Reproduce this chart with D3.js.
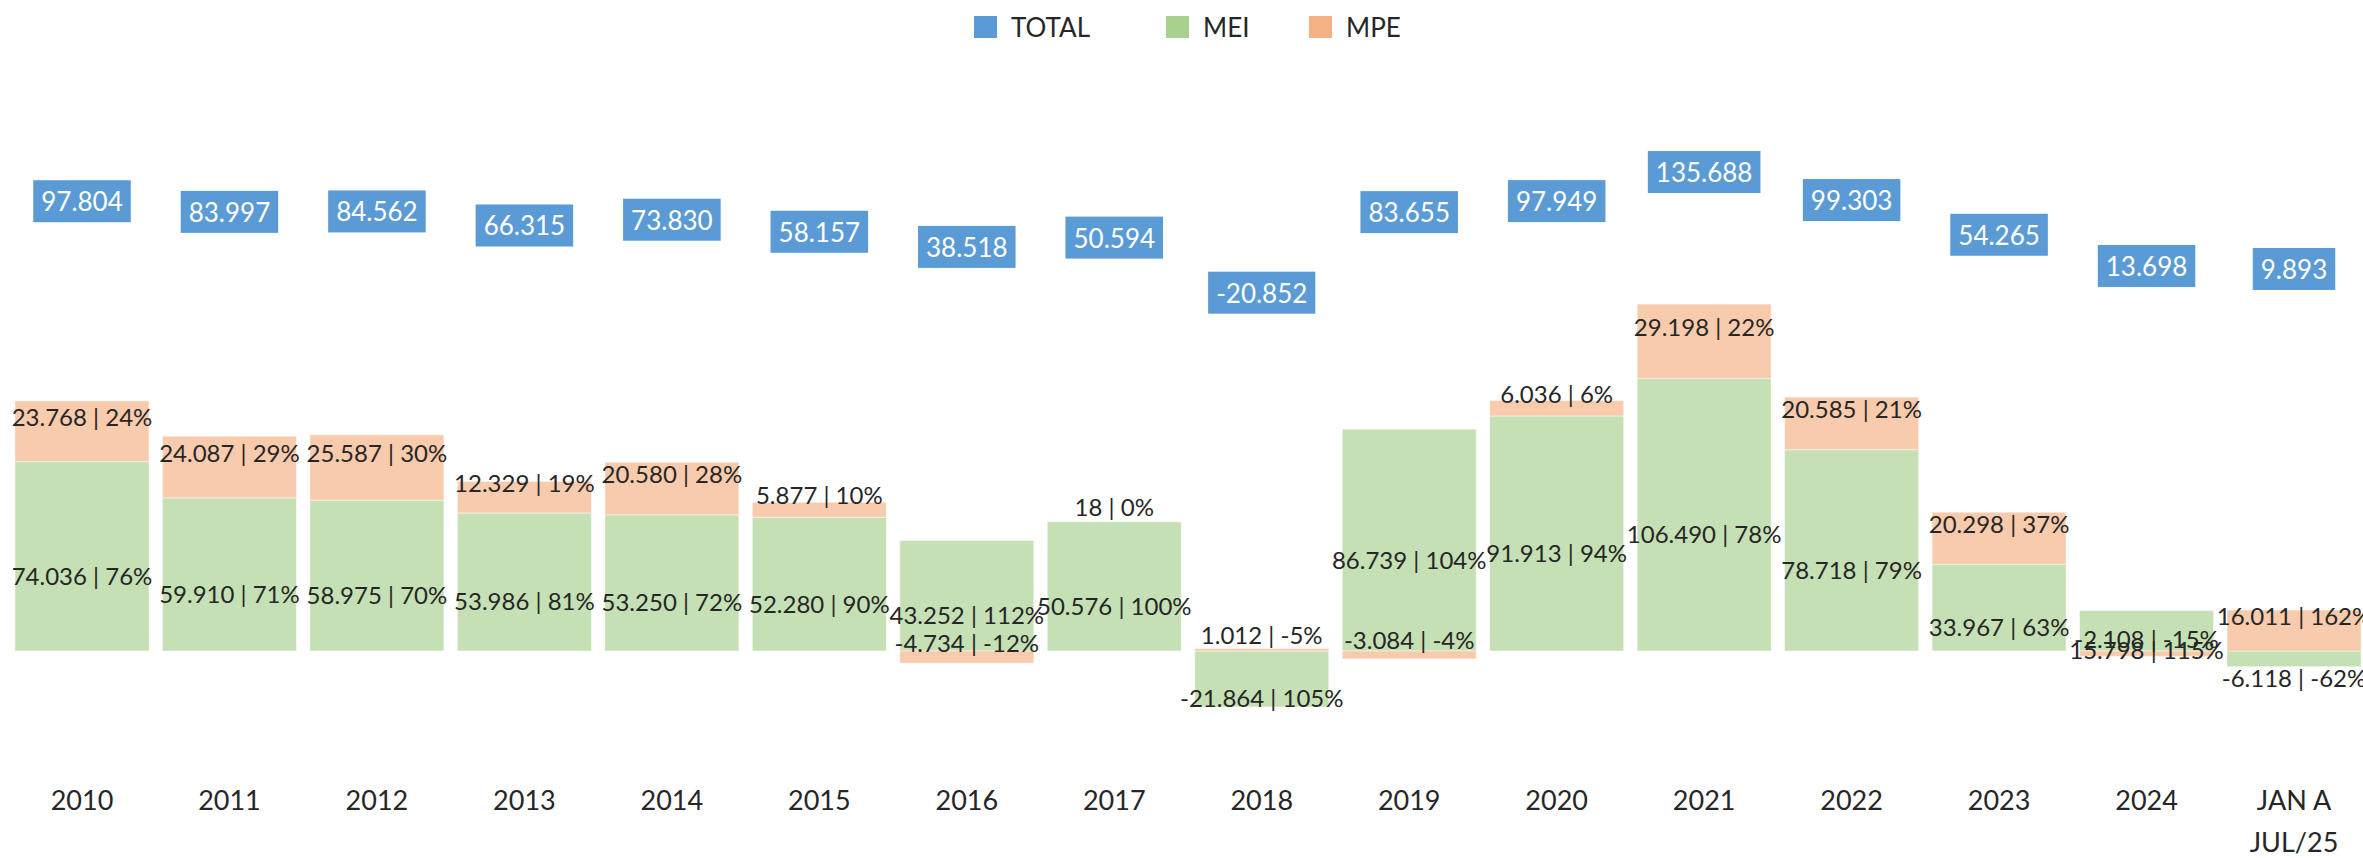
<!DOCTYPE html>
<html>
<head>
<meta charset="utf-8">
<script src="https://cdn.jsdelivr.net/npm/d3@7"></script>
<style>
  body { margin: 0; background: #fff; }
  svg { display: block; font-family: Lato, "Open Sans", sans-serif; }
  .lbl { fill: #262626; font-size: 24px; }
  .tick-lbl { fill: #262626; font-size: 27px; }
  .legend text { fill: #262626; font-size: 26px; }
</style>
</head>
<body>
<div id="chart"></div>
<script>
//Data
const anos = ["2010", "2011", "2012", "2013", "2014", "2015", "2016", "2017",
              "2018", "2019", "2020", "2021", "2022", "2023", "2024", "JAN A|JUL/25"];
const mei = [74036, 59910, 58975, 53986, 53250, 52280, 43252, 50576,
             -21864, 86739, 91913, 106490, 78718, 33967, 15798, -6118];
const mpe = [23768, 24087, 25587, 12329, 20580, 5877, -4734, 18,
             1012, -3084, 6036, 29198, 20585, 20298, -2108, 16011];
const total = [97804, 83997, 84562, 66315, 73830, 58157, 38518, 50594,
               -20852, 83655, 97949, 135688, 99303, 54265, 13698, 9893];
const series = ["TOTAL", "MEI", "MPE"];

//Size
const width = 2363, height = 858;

//Colors
const legendColor = d3.scaleOrdinal(series, ['#5B9BD5', '#A9D18E', '#F4B183']);
const barColor = { MEI: '#C5E0B4', MPE: '#F8CBAD' };

//Brazilian number format
const br = d3.formatLocale({ decimal: ",", thousands: ".", grouping: [3], currency: ["R$", ""], minus: "-" });
const fmt = br.format(",d");

const rows = anos.map(function(a, i) {
  return { ano: a, MEI: mei[i], MPE: mpe[i], TOTAL: total[i] };
});

//Scales
const x = d3.scaleBand()
            .domain(anos)
            .range([15, 2361])
            .paddingInner(0.0915);
const y = d3.scaleLinear()
            .domain([0, 100000])
            .range([651, 651 - 255.7]);
// secondary scale for the total labels
const y2 = d3.scaleLinear()
             .domain([0, 140000])
             .range([276.6, 168.7]);

const stack = d3.stack()
                .keys(["MEI", "MPE"])
                .offset(d3.stackOffsetDiverging);
const stacked = stack(rows);

const svg = d3.select('#chart')
              .append('svg')
              .attr('width', width)
              .attr('height', height);

//Bars
const layer = svg.selectAll('.layer')
                 .data(stacked)
                 .enter().append('g')
                  .attr('class', 'layer')
                  .attr('fill', function(d) { return barColor[d.key]; });
layer.selectAll('rect')
     .data(function(d) { return d; })
     .enter().append('rect')
      .attr('x', function(d) { return x(d.data.ano); })
      .attr('y', function(d) { return y(Math.max(d[0], d[1])); })
      .attr('width', x.bandwidth())
      .attr('height', function(d) { return Math.abs(y(d[0]) - y(d[1])); })
      .attr('stroke', '#ffffff')
      .attr('stroke-opacity', 0.45)
      .attr('stroke-width', 1);

//Bar labels
stacked.forEach(function(s) {
  svg.append('g')
     .selectAll('text')
     .data(s)
     .enter().append('text')
      .attr('class', 'lbl')
      .attr('text-anchor', 'middle')
      .attr('dominant-baseline', 'central')
      .attr('x', function(d) { return x(d.data.ano) + x.bandwidth() / 2; })
      .attr('y', function(d) {
        const mid = (y(d[0]) + y(d[1])) / 2;
        return s.key === "MEI" ? mid + 19 : mid - 15;
      })
      .text(function(d) {
        const v = d.data[s.key];
        const pct = Math.round(v / d.data.TOTAL * 100);
        return fmt(v) + " | " + pct + "%";
      });
});

//Total labels (blue boxes)
const tot = svg.selectAll('.total')
               .data(rows)
               .enter().append('g')
                .attr('class', 'total')
                .attr('transform', function(d) {
                  return "translate(" + (x(d.ano) + x.bandwidth() / 2) + "," + y2(d.TOTAL) + ")";
                });
tot.append('rect').attr('fill', legendColor('TOTAL'));
tot.append('text')
   .attr('text-anchor', 'middle')
   .attr('dominant-baseline', 'central')
   .attr('fill', '#ffffff')
   .style('font-size', '26px')
   .text(function(d) { return fmt(d.TOTAL); });
tot.each(function() {
  const g = d3.select(this);
  const w = g.select('text').node().getComputedTextLength() + 16;
  g.select('rect')
   .attr('x', -w / 2)
   .attr('y', -21)
   .attr('width', w)
   .attr('height', 42);
});

//X axis labels
const xl = svg.append('g')
              .selectAll('text')
              .data(anos)
              .enter().append('text')
               .attr('class', 'tick-lbl')
               .attr('text-anchor', 'middle')
               .attr('x', function(d) { return x(d) + x.bandwidth() / 2; })
               .attr('y', 810);
xl.selectAll('tspan')
  .data(function(d) { return d.split("|"); })
  .enter().append('tspan')
   .attr('x', function() { const p = this.parentNode; return d3.select(p).attr('x'); })
   .attr('dy', function(d, i) { return i === 0 ? 0 : 42; })
   .text(function(d) { return d; });

//Legend
const legendX = [974, 1166, 1309];
const legend = svg.selectAll('.legend')
                  .data(series)
                  .enter().append('g')
                   .attr('class', 'legend')
                   .attr('transform', function(d, i) { return "translate(" + legendX[i] + ",16)"; });
legend.append('rect')
      .attr('width', 23)
      .attr('height', 22)
      .attr('fill', function(d) { return legendColor(d); });
legend.append('text')
      .attr('x', 37)
      .attr('y', 11)
      .attr('dominant-baseline', 'central')
      .text(function(d) { return d; });
</script>
</body>
</html>
